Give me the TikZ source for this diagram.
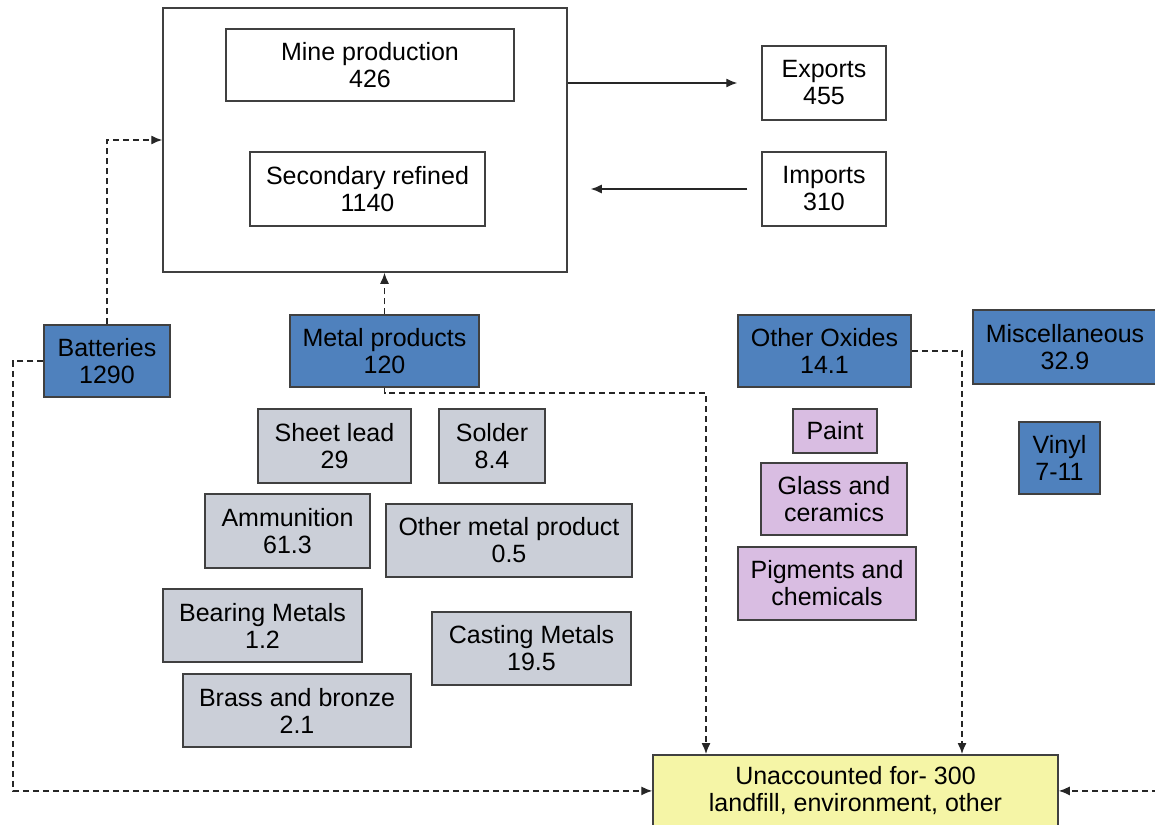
\documentclass[tikz,border=0pt]{standalone}
\usepackage{fontspec}
\setmainfont{Liberation Sans}
\usetikzlibrary{arrows.meta,positioning}
\definecolor{useblue}{HTML}{4F81BD}
\definecolor{metalgray}{HTML}{CBCFD8}
\definecolor{oxidelilac}{HTML}{D9BDE2}
\definecolor{lostyellow}{HTML}{F5F5A6}
\tikzset{
    %Define standard arrow tip
    >={Latex[length=11pt,width=9pt]},
    %Define style for boxes
    flowbox/.style={
           rectangle,
           draw=black!75, line width=1.5pt,
           align=center,
           inner sep=0pt,
           font=\fontsize{25}{27}\selectfont},
    usebox/.style={flowbox, fill=useblue},
    metalbox/.style={flowbox, fill=metalgray},
    oxidebox/.style={flowbox, fill=oxidelilac},
    % Define arrow style
    flow/.style={
           ->,
           line width=1.3pt,
           black!85},
    lossflow/.style={flow, dash pattern=on 6pt off 4pt}
}

\begin{document}
\begin{tikzpicture}[x=1pt,y=-1pt]
\useasboundingbox (0,0) rectangle (1155,824);
 %stock
\node[flowbox, minimum width=404pt, minimum height=264pt](stock) at (365,140){};
\node[flowbox, minimum width=288pt, minimum height=72pt](mine) at (370,65){Mine production\\426};
\node[flowbox, minimum width=235pt, minimum height=74pt](secondary) at (367.5,189){Secondary refined\\1140};
 %trade
\node[flowbox, minimum width=124pt, minimum height=74pt](exports) at (824,83){Exports\\455};
\node[flowbox, minimum width=124pt, minimum height=74pt](imports) at (824,189){Imports\\310};
 %end uses
\node[usebox, minimum width=126pt, minimum height=72pt](batteries) at (107,361){Batteries\\1290};
\node[usebox, minimum width=189pt, minimum height=72pt](metal) at (384.5,351){Metal products\\120};
\node[usebox, minimum width=173pt, minimum height=72pt](oxides) at (824.5,351){Other Oxides\\14.1};
\node[usebox, minimum width=184pt, minimum height=74pt](misc) at (1065,347){Miscellaneous\\32.9};
\node[usebox, minimum width=81pt, minimum height=72pt](vinyl) at (1059.5,458){Vinyl\\7-11};
 %metal products
\node[metalbox, minimum width=153pt, minimum height=74pt](sheet) at (334.5,446){Sheet lead\\29};
\node[metalbox, minimum width=106pt, minimum height=74pt](solder) at (492,446){Solder\\8.4};
\node[metalbox, minimum width=165pt, minimum height=74pt](ammo) at (287.5,531){Ammunition\\61.3};
\node[metalbox, minimum width=246pt, minimum height=73pt](othermetal) at (509,540.5){Other metal product\\0.5};
\node[metalbox, minimum width=199pt, minimum height=73pt](bearing) at (262.5,625.5){Bearing Metals\\1.2};
\node[metalbox, minimum width=199pt, minimum height=73pt](casting) at (531.5,648.5){Casting Metals\\19.5};
\node[metalbox, minimum width=228pt, minimum height=73pt](brass) at (297,710.5){Brass and bronze\\2.1};
 %oxides
\node[oxidebox, minimum width=84pt, minimum height=44pt](paint) at (835,431){Paint};
\node[oxidebox, minimum width=146pt, minimum height=72pt](glass) at (834,499){Glass and\\ceramics};
\node[oxidebox, minimum width=178pt, minimum height=73pt](pigments) at (827,583.5){Pigments and\\chemicals};
 %losses
\node[flowbox, fill=lostyellow, anchor=north, minimum width=405pt, inner ysep=12pt](lost) at (855.5,754){Unaccounted for- 300\\landfill, environment, other};

\coordinate (battdrop) at (13,0);
\coordinate (metaldrop) at (706,393);
\coordinate (oxidedrop) at (962,0);
\coordinate (rightin) at (1158,0);

 %connectors
\draw[flow, shorten >=24pt] (stock.east |- exports.west) -- (exports.west);
\draw[flow, shorten <=14pt, shorten >=23pt] (imports.west) -- (imports.west -| stock.east);
\draw[lossflow] (batteries.north) |- (stock.west);
\draw[lossflow] (batteries.west) -| (battdrop |- lost.west) -- (lost.west);
\draw[lossflow] (metal.north) -- (metal.north |- stock.south);
\draw[lossflow] (metal.south) |- (metaldrop) -- (metaldrop |- lost.north);
\draw[lossflow] (oxides.east) -| (oxidedrop |- lost.north);
\draw[lossflow] (rightin |- lost.east) -- (lost.east);

\end{tikzpicture}
\end{document}
